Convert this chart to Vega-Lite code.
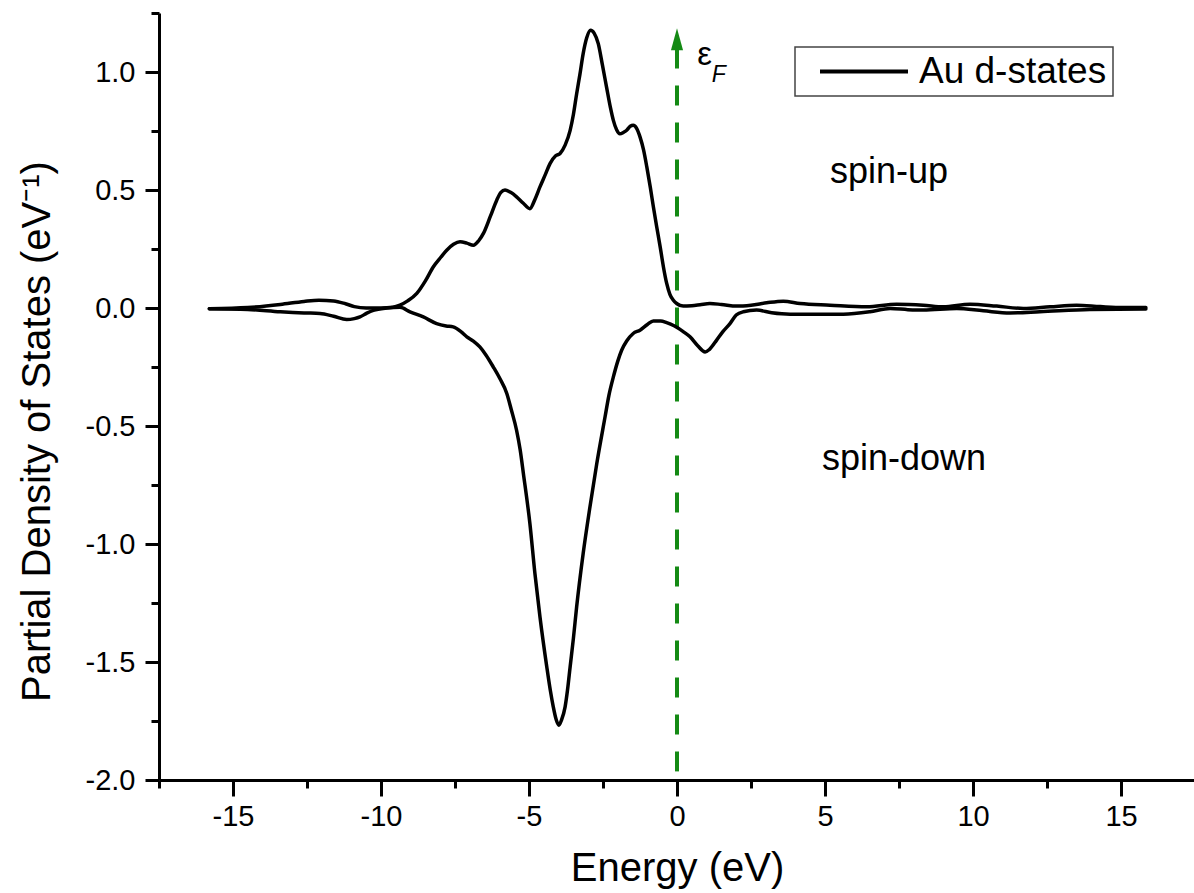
{
  "$schema": "https://vega.github.io/schema/vega-lite/v6.json",
  "width": 1036,
  "height": 767,
  "autosize": {"type": "none"},
  "padding": {"left": 159, "top": 13, "right": 0, "bottom": 113},
  "background": "white",
  "config": {
    "view": {"stroke": null},
    "font": "Liberation Sans",
    "axis": {
      "grid": false,
      "domainColor": "black",
      "domainWidth": 3,
      "tickColor": "black",
      "tickWidth": 3,
      "labelFont": "Liberation Sans",
      "labelFontSize": 29,
      "labelColor": "black",
      "titleFont": "Liberation Sans",
      "titleFontSize": 40,
      "titleFontWeight": "normal",
      "titleColor": "black"
    },
    "legend": {"strokeWidth": 1.5}
  },
  "datasets": {
    "dos": [
      {"s": "up", "e": -15.8, "v": -0.003},
      {"s": "up", "e": -14.5, "v": 0.002},
      {"s": "up", "e": -13.4, "v": 0.015},
      {"s": "up", "e": -12.6, "v": 0.028},
      {"s": "up", "e": -12.1, "v": 0.033},
      {"s": "up", "e": -11.6, "v": 0.03},
      {"s": "up", "e": -11.2, "v": 0.018},
      {"s": "up", "e": -10.9, "v": 0.006},
      {"s": "up", "e": -10.5, "v": 0.0},
      {"s": "up", "e": -10.0, "v": 0.0},
      {"s": "up", "e": -9.6, "v": 0.003},
      {"s": "up", "e": -9.36, "v": 0.012},
      {"s": "up", "e": -9.1, "v": 0.03},
      {"s": "up", "e": -8.79, "v": 0.062},
      {"s": "up", "e": -8.5, "v": 0.115},
      {"s": "up", "e": -8.23, "v": 0.175},
      {"s": "up", "e": -7.98, "v": 0.215},
      {"s": "up", "e": -7.78, "v": 0.245},
      {"s": "up", "e": -7.55, "v": 0.27},
      {"s": "up", "e": -7.33, "v": 0.281},
      {"s": "up", "e": -7.1, "v": 0.275},
      {"s": "up", "e": -6.88, "v": 0.266},
      {"s": "up", "e": -6.7, "v": 0.285},
      {"s": "up", "e": -6.54, "v": 0.316},
      {"s": "up", "e": -6.3, "v": 0.39},
      {"s": "up", "e": -6.09, "v": 0.457},
      {"s": "up", "e": -5.95, "v": 0.49},
      {"s": "up", "e": -5.81, "v": 0.5},
      {"s": "up", "e": -5.62, "v": 0.49},
      {"s": "up", "e": -5.42, "v": 0.471},
      {"s": "up", "e": -5.2, "v": 0.445},
      {"s": "up", "e": -4.97, "v": 0.421},
      {"s": "up", "e": -4.8, "v": 0.46},
      {"s": "up", "e": -4.63, "v": 0.513},
      {"s": "up", "e": -4.45, "v": 0.565},
      {"s": "up", "e": -4.29, "v": 0.612},
      {"s": "up", "e": -4.1, "v": 0.645},
      {"s": "up", "e": -3.95, "v": 0.655},
      {"s": "up", "e": -3.78, "v": 0.69},
      {"s": "up", "e": -3.61, "v": 0.753},
      {"s": "up", "e": -3.5, "v": 0.82},
      {"s": "up", "e": -3.39, "v": 0.908},
      {"s": "up", "e": -3.28, "v": 0.99},
      {"s": "up", "e": -3.17, "v": 1.078},
      {"s": "up", "e": -3.05, "v": 1.145},
      {"s": "up", "e": -2.92, "v": 1.177},
      {"s": "up", "e": -2.8, "v": 1.165},
      {"s": "up", "e": -2.66, "v": 1.12},
      {"s": "up", "e": -2.52, "v": 1.03},
      {"s": "up", "e": -2.38, "v": 0.936},
      {"s": "up", "e": -2.25, "v": 0.85},
      {"s": "up", "e": -2.15, "v": 0.795},
      {"s": "up", "e": -2.04, "v": 0.755},
      {"s": "up", "e": -1.93, "v": 0.738},
      {"s": "up", "e": -1.8, "v": 0.745},
      {"s": "up", "e": -1.7, "v": 0.753},
      {"s": "up", "e": -1.58, "v": 0.77},
      {"s": "up", "e": -1.48, "v": 0.774},
      {"s": "up", "e": -1.36, "v": 0.76},
      {"s": "up", "e": -1.25, "v": 0.725},
      {"s": "up", "e": -1.13, "v": 0.67},
      {"s": "up", "e": -1.02, "v": 0.598},
      {"s": "up", "e": -0.9, "v": 0.51},
      {"s": "up", "e": -0.8, "v": 0.43},
      {"s": "up", "e": -0.68, "v": 0.34},
      {"s": "up", "e": -0.57, "v": 0.26},
      {"s": "up", "e": -0.46, "v": 0.175},
      {"s": "up", "e": -0.35, "v": 0.105},
      {"s": "up", "e": -0.24, "v": 0.058},
      {"s": "up", "e": -0.13, "v": 0.034},
      {"s": "up", "e": 0.0, "v": 0.018},
      {"s": "up", "e": 0.21, "v": 0.008},
      {"s": "up", "e": 0.5, "v": 0.01},
      {"s": "up", "e": 0.78, "v": 0.014},
      {"s": "up", "e": 1.11, "v": 0.019},
      {"s": "up", "e": 1.5, "v": 0.015},
      {"s": "up", "e": 2.02, "v": 0.008},
      {"s": "up", "e": 2.5, "v": 0.012},
      {"s": "up", "e": 3.03, "v": 0.022},
      {"s": "up", "e": 3.59, "v": 0.029},
      {"s": "up", "e": 4.16, "v": 0.019},
      {"s": "up", "e": 5.17, "v": 0.012},
      {"s": "up", "e": 6.41, "v": 0.005},
      {"s": "up", "e": 7.42, "v": 0.016},
      {"s": "up", "e": 8.32, "v": 0.012},
      {"s": "up", "e": 9.0, "v": 0.005},
      {"s": "up", "e": 9.9, "v": 0.016},
      {"s": "up", "e": 10.8, "v": 0.008},
      {"s": "up", "e": 11.7, "v": -0.002},
      {"s": "up", "e": 12.6, "v": 0.005},
      {"s": "up", "e": 13.5, "v": 0.012},
      {"s": "up", "e": 14.3, "v": 0.006},
      {"s": "up", "e": 15.07, "v": 0.002},
      {"s": "up", "e": 15.84, "v": 0.002},
      {"s": "down", "e": -15.8, "v": -0.003},
      {"s": "down", "e": -14.5, "v": -0.006},
      {"s": "down", "e": -13.4, "v": -0.016},
      {"s": "down", "e": -12.6, "v": -0.021},
      {"s": "down", "e": -12.06, "v": -0.023},
      {"s": "down", "e": -11.6, "v": -0.035},
      {"s": "down", "e": -11.16, "v": -0.049},
      {"s": "down", "e": -10.9, "v": -0.045},
      {"s": "down", "e": -10.71, "v": -0.038},
      {"s": "down", "e": -10.48, "v": -0.022},
      {"s": "down", "e": -10.26, "v": -0.01},
      {"s": "down", "e": -9.8, "v": 0.0},
      {"s": "down", "e": -9.36, "v": 0.003},
      {"s": "down", "e": -9.02, "v": -0.016},
      {"s": "down", "e": -8.57, "v": -0.038},
      {"s": "down", "e": -8.12, "v": -0.066},
      {"s": "down", "e": -7.8, "v": -0.076},
      {"s": "down", "e": -7.56, "v": -0.08},
      {"s": "down", "e": -7.3, "v": -0.1},
      {"s": "down", "e": -7.1, "v": -0.122},
      {"s": "down", "e": -6.88, "v": -0.14},
      {"s": "down", "e": -6.66, "v": -0.165},
      {"s": "down", "e": -6.45, "v": -0.2},
      {"s": "down", "e": -6.21, "v": -0.249},
      {"s": "down", "e": -5.98, "v": -0.3},
      {"s": "down", "e": -5.75, "v": -0.362},
      {"s": "down", "e": -5.6, "v": -0.43},
      {"s": "down", "e": -5.42, "v": -0.518},
      {"s": "down", "e": -5.3, "v": -0.6},
      {"s": "down", "e": -5.19, "v": -0.701},
      {"s": "down", "e": -4.97, "v": -0.913},
      {"s": "down", "e": -4.8, "v": -1.125},
      {"s": "down", "e": -4.63, "v": -1.308},
      {"s": "down", "e": -4.4, "v": -1.52},
      {"s": "down", "e": -4.28, "v": -1.62},
      {"s": "down", "e": -4.18, "v": -1.69},
      {"s": "down", "e": -4.08, "v": -1.745},
      {"s": "down", "e": -3.99, "v": -1.768},
      {"s": "down", "e": -3.9, "v": -1.745},
      {"s": "down", "e": -3.78, "v": -1.69},
      {"s": "down", "e": -3.7, "v": -1.62},
      {"s": "down", "e": -3.61, "v": -1.52},
      {"s": "down", "e": -3.5, "v": -1.4},
      {"s": "down", "e": -3.39, "v": -1.266},
      {"s": "down", "e": -3.17, "v": -1.04},
      {"s": "down", "e": -2.94, "v": -0.842},
      {"s": "down", "e": -2.71, "v": -0.659},
      {"s": "down", "e": -2.43, "v": -0.461},
      {"s": "down", "e": -2.3, "v": -0.37},
      {"s": "down", "e": -2.15, "v": -0.292},
      {"s": "down", "e": -2.0, "v": -0.225},
      {"s": "down", "e": -1.87, "v": -0.179},
      {"s": "down", "e": -1.7, "v": -0.14},
      {"s": "down", "e": -1.48, "v": -0.108},
      {"s": "down", "e": -1.25, "v": -0.094},
      {"s": "down", "e": -1.0, "v": -0.07},
      {"s": "down", "e": -0.8, "v": -0.055},
      {"s": "down", "e": -0.55, "v": -0.055},
      {"s": "down", "e": -0.35, "v": -0.062},
      {"s": "down", "e": -0.1, "v": -0.075},
      {"s": "down", "e": 0.21, "v": -0.1},
      {"s": "down", "e": 0.44, "v": -0.122},
      {"s": "down", "e": 0.7, "v": -0.16},
      {"s": "down", "e": 0.95, "v": -0.186},
      {"s": "down", "e": 1.1, "v": -0.175},
      {"s": "down", "e": 1.34, "v": -0.136},
      {"s": "down", "e": 1.55, "v": -0.1},
      {"s": "down", "e": 1.79, "v": -0.066},
      {"s": "down", "e": 2.0, "v": -0.03},
      {"s": "down", "e": 2.24, "v": -0.016},
      {"s": "down", "e": 2.69, "v": -0.009},
      {"s": "down", "e": 3.2, "v": -0.02},
      {"s": "down", "e": 3.82, "v": -0.026},
      {"s": "down", "e": 4.7, "v": -0.026},
      {"s": "down", "e": 5.62, "v": -0.026},
      {"s": "down", "e": 6.52, "v": -0.016},
      {"s": "down", "e": 7.2, "v": -0.002},
      {"s": "down", "e": 7.8, "v": -0.007},
      {"s": "down", "e": 8.32, "v": -0.009},
      {"s": "down", "e": 9.45, "v": -0.002},
      {"s": "down", "e": 10.35, "v": -0.012},
      {"s": "down", "e": 11.25, "v": -0.021},
      {"s": "down", "e": 12.26, "v": -0.016},
      {"s": "down", "e": 13.95, "v": -0.006},
      {"s": "down", "e": 15.84, "v": -0.004}
    ],
    "fermi": [{"e": 0, "top": 1.1, "bottom": -2.0}],
    "arrow": [{"e": 0, "v": 1.1385}],
    "spins": [
      {"e": 5.17, "v": 0.529, "t": "spin-up"},
      {"e": 4.9, "v": -0.687, "t": "spin-down"}
    ],
    "eps": [{"e": 0.68, "v": 1.028, "t": "ε"}],
    "sub": [{"e": 1.17, "v": 0.958, "t": "F"}]
  },
  "layer": [
    {
      "data": {"name": "fermi"},
      "mark": {"type": "rule", "color": "#148a14", "strokeWidth": 4, "strokeDash": [20, 17]},
      "encoding": {
        "x": {
          "field": "e", "type": "quantitative",
          "scale": {"domain": [-17.5, 17.5], "nice": false, "zero": false},
          "axis": {"orient": "bottom", "values": [-17.5, -12.5, -7.5, -2.5, 2.5, 7.5, 12.5, 17.5], "labels": false, "domain": false, "tickSize": 8, "title": null}
        },
        "y": {
          "field": "top", "type": "quantitative",
          "scale": {"domain": [-2, 1.25], "nice": false, "zero": false},
          "axis": {"orient": "left", "values": [-1.75, -1.25, -0.75, -0.25, 0.25, 0.75, 1.25], "labels": false, "domain": false, "tickSize": 8, "title": null}
        },
        "y2": {"field": "bottom"}
      }
    },
    {
      "data": {"name": "dos"},
      "mark": {"type": "line", "strokeWidth": 3.5, "interpolate": "monotone", "strokeCap": "round", "strokeJoin": "round"},
      "encoding": {
        "x": {
          "field": "e", "type": "quantitative",
          "axis": {
            "orient": "bottom",
            "values": [-15, -10, -5, 0, 5, 10, 15],
            "labelExpr": "replace(datum.label, '\u2212', '-')",
            "tickSize": 16,
            "labelPadding": 6,
            "title": "Energy (eV)",
            "titleX": 518,
            "titleY": 100,
            "titleAlign": "center",
            "titleBaseline": "alphabetic"
          }
        },
        "y": {
          "field": "v", "type": "quantitative",
          "axis": {
            "orient": "left",
            "values": [-2, -1.5, -1, -0.5, 0, 0.5, 1],
            "labelExpr": "replace(format(datum.value, '.1f'), '\u2212', '-')",
            "tickSize": 14,
            "labelPadding": 10,
            "title": "Partial Density of States (eV⁻¹)",
            "titleAngle": 270,
            "titleX": -110,
            "titleY": 418,
            "titleAlign": "center",
            "titleBaseline": "alphabetic"
          }
        },
        "detail": {"field": "s"},
        "color": {
          "datum": "Au d-states",
          "type": "nominal",
          "scale": {"range": ["black"]},
          "legend": {
            "orient": "none",
            "legendX": 636,
            "legendY": 34,
            "title": null,
            "strokeColor": "#444444",
            "fillColor": "white",
            "padding": 6,
            "symbolType": "stroke",
            "symbolSize": 7744,
            "symbolStrokeWidth": 4,
            "symbolOffset": 17,
            "labelFont": "Liberation Sans",
            "labelFontSize": 37,
            "labelColor": "black",
            "labelOffset": 9,
            "labelLimit": 400,
            "clipHeight": 37
          }
        }
      }
    },
    {
      "data": {"name": "arrow"},
      "mark": {"type": "point", "shape": "M0,-1L0.55,1L-0.55,1Z", "filled": true, "color": "#148a14", "opacity": 1, "size": 484},
      "encoding": {
        "x": {"field": "e", "type": "quantitative", "axis": null},
        "y": {"field": "v", "type": "quantitative", "axis": null}
      }
    },
    {
      "data": {"name": "spins"},
      "mark": {"type": "text", "align": "left", "baseline": "alphabetic", "fontSize": 36, "font": "Liberation Sans", "color": "black"},
      "encoding": {
        "x": {"field": "e", "type": "quantitative", "axis": null},
        "y": {"field": "v", "type": "quantitative", "axis": null},
        "text": {"field": "t"}
      }
    },
    {
      "data": {"name": "eps"},
      "mark": {"type": "text", "align": "left", "baseline": "alphabetic", "fontSize": 33, "font": "Liberation Sans", "color": "black"},
      "encoding": {
        "x": {"field": "e", "type": "quantitative", "axis": null},
        "y": {"field": "v", "type": "quantitative", "axis": null},
        "text": {"field": "t"}
      }
    },
    {
      "data": {"name": "sub"},
      "mark": {"type": "text", "align": "left", "baseline": "alphabetic", "fontSize": 23, "fontStyle": "italic", "font": "Liberation Sans", "color": "black"},
      "encoding": {
        "x": {"field": "e", "type": "quantitative", "axis": null},
        "y": {"field": "v", "type": "quantitative", "axis": null},
        "text": {"field": "t"}
      }
    }
  ],
  "resolve": {"axis": {"x": "independent", "y": "independent"}}
}
